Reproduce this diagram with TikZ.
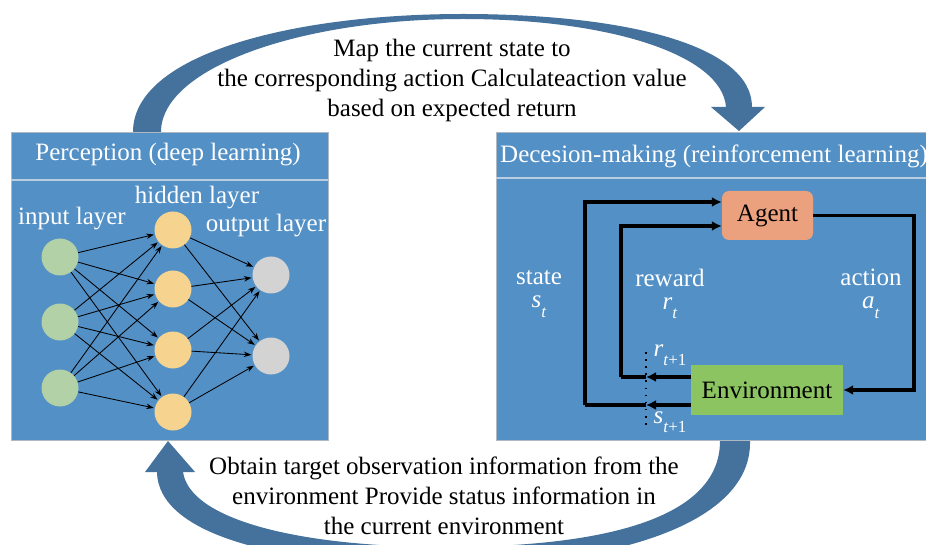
\documentclass[tikz,border=0pt]{standalone}
\usepackage{fontspec}
\setmainfont{Liberation Serif}
\usetikzlibrary{arrows.meta,calc}
\definecolor{panel}{HTML}{5390C6}
\definecolor{pborder}{HTML}{AEB9C4}
\definecolor{sep}{HTML}{B9CCE0}
\definecolor{bigarrow}{HTML}{44729C}
\definecolor{inputc}{HTML}{B3D1A7}
\definecolor{hiddenc}{HTML}{F6D48F}
\definecolor{outc}{HTML}{D3D3D3}
\definecolor{agentc}{HTML}{EBA07E}
\definecolor{envc}{HTML}{8BC460}
\newcommand{\lblsub}[2]{\textit{#1}\raisebox{-0.38em}{\fontsize{17}{17}\selectfont #2}}
\tikzset{
  panelbox/.style={fill=panel, draw=pborder, line width=0.8pt},
  neuron/.style={circle, inner sep=0pt, minimum size=37pt},
  nnarrow/.style={-{Stealth[length=7.5pt,width=5.5pt]}, line width=0.85pt, black, shorten >=1pt},
  rlline/.style={line width=3.1pt, black},
  rlarrow/.style={rlline, -{Latex[length=10pt,width=10pt]}},
  whitetxt/.style={text=white, font=\fontsize{25}{23}\selectfont, inner sep=0pt, align=center},
  bigtxt/.style={font=\fontsize{25}{30}\selectfont, align=center, inner sep=0pt},
}
\begin{document}
\begin{tikzpicture}[x=1pt,y=-1pt]
\useasboundingbox (0,0) rectangle (926,545);
% panels
\draw[panelbox] (11,132) rectangle (328,440);
\draw[sep, line width=1.6pt] (11,180) -- (328,180);
\draw[panelbox] (496,132) rectangle (940,440);
\draw[sep, line width=1.6pt] (496,178) -- (940,178);
\node[whitetxt] (ptitle) at (168,155) {Perception (deep learning)};
\node[whitetxt, anchor=west] (dtitle) at (500,156) {Decesion-making (reinforcement learning)};
% top big arrow
\fill[bigarrow] (133,132) .. controls (133,55) and (290,14) .. (463,14)
  .. controls (625,14) and (752,45) .. (752,107)
  -- (765,107) -- (739,131) -- (711,107) -- (726,107)
  .. controls (722,55) and (610,19) .. (463,19)
  .. controls (300,19) and (161,68) .. (161,132) -- cycle;
% bottom big arrow
\fill[bigarrow] (750,441) .. controls (752,525) and (610,566) .. (445,566)
  .. controls (280,566) and (158,535) .. (157,472)
  -- (145,472) -- (168,441) -- (195,472) -- (183,472)
  .. controls (190,520) and (300,547) .. (445,547)
  .. controls (600,547) and (720,520) .. (720,441) -- cycle;
% texts
\node[bigtxt] (toptext) at (452,80) {Map the current state to\\the corresponding action Calculateaction value\\based on expected return};
\node[bigtxt] (bottext) at (444,496) {Obtain target observation information from the\\environment Provide status information in\\the current environment};
% neural network
\node[neuron, fill=inputc] (i1) at (60,257) {};
\node[neuron, fill=inputc] (i2) at (60,322) {};
\node[neuron, fill=inputc] (i3) at (60,388) {};
\node[neuron, fill=hiddenc] (h1) at (173,230) {};
\node[neuron, fill=hiddenc] (h2) at (173,289) {};
\node[neuron, fill=hiddenc] (h3) at (173,350) {};
\node[neuron, fill=hiddenc] (h4) at (173,412) {};
\node[neuron, fill=outc] (o1) at (271,275) {};
\node[neuron, fill=outc] (o2) at (271,356) {};
\foreach \i in {1,2,3}{\foreach \h in {1,2,3,4}{\draw[nnarrow] (i\i) -- (h\h);}}
\foreach \h in {1,2,3,4}{\foreach \o in {1,2}{\draw[nnarrow] (h\h) -- (o\o);}}
\node[whitetxt] (inl) at (72,219) {input layer};
\node[whitetxt] (hidl) at (197,198) {hidden layer};
\node[whitetxt] (outl) at (266,226) {output layer};
% RL
\node[fill=agentc, rounded corners=7pt, minimum width=91pt, minimum height=49pt, inner sep=0pt, font=\fontsize{25}{25}\selectfont] (ag) at (767.5,215.5) {Agent};
\node[fill=envc, minimum width=152pt, minimum height=50pt, inner sep=0pt, font=\fontsize{25}{25}\selectfont] (en) at (767,390) {Environment};
\coordinate (sx) at (585,405);
\coordinate (rx) at (621,377);
\coordinate (dx) at (646,0);
\coordinate (ax) at (914,300);
\draw[dash pattern=on 1.6pt off 5.5pt, line width=1.6pt, black] (646,352) -- (646,425);
\draw[rlarrow] (en.west |- sx) -- (dx |- sx);
\draw[rlline] (dx |- sx) -- (sx);
\draw[rlarrow] (sx) |- ([yshift=13.5pt]ag.west);
\draw[rlarrow] (en.west |- rx) -- (dx |- rx);
\draw[rlline] (dx |- rx) -- (rx);
\draw[rlarrow] (rx) |- ([yshift=-10.5pt]ag.west);
\draw[rlarrow] (ag.east) -| (ax) |- (en.east);
\node[whitetxt] (stl) at (539,294) {state\\\lblsub{s}{\textit{t}}};
\node[whitetxt] (rwl) at (670,294) {reward\\\lblsub{r}{\textit{t}}};
\node[whitetxt] (acl) at (871,294) {action\\\lblsub{a}{\textit{t}}};
\node[whitetxt] (r1) at (670,355) {\lblsub{r}{\textit{t}+1}};
\node[whitetxt] (s1) at (670,422) {\lblsub{s}{\textit{t}+1}};
\end{tikzpicture}
\end{document}
